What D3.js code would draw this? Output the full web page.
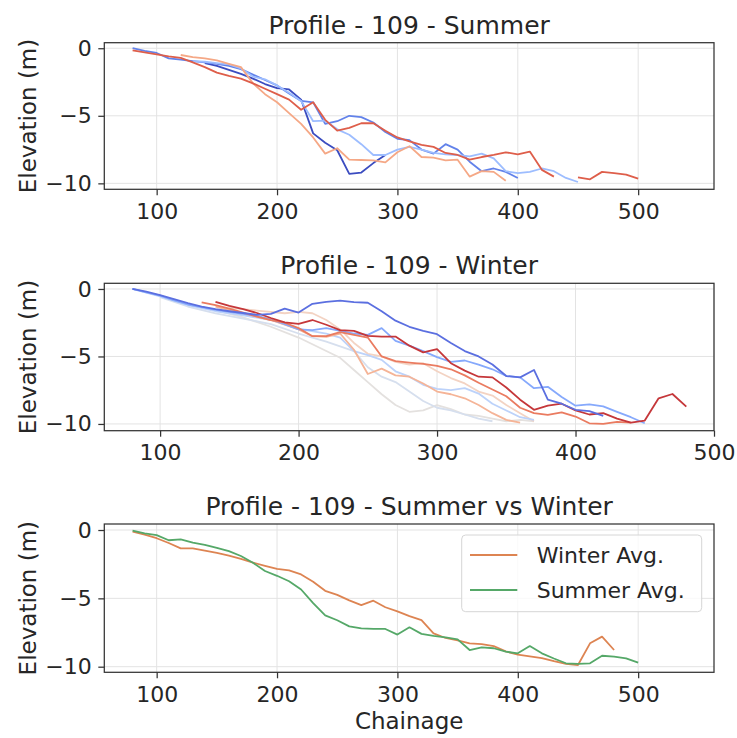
<!DOCTYPE html>
<html>
<head>
<meta charset="utf-8">
<script src="https://cdn.jsdelivr.net/npm/d3@7"></script>
<style>
  body { margin: 0; background: #fff; }
  svg text { font-family: "DejaVu Sans", sans-serif; fill: #262626; }
</style>
</head>
<body>
<svg id="chart" width="737" height="738"></svg>
<script>
// ---- data (chainage, elevation) ----
// Summer surveys
const summerA = [[140,-1.1],[150,-1.3],[160,-1.6],[170,-1.9],[180,-2.25],[190,-2.65],[200,-2.95],[210,-3.05],[220,-3.8],[230,-6.3],[240,-7.0],[250,-7.55],[260,-9.3],[270,-9.2],[280,-8.5],[290,-7.9]];
const summerB = [[80,0],[90,-0.2],[100,-0.35],[110,-0.75],[120,-0.85],[130,-0.95],[140,-1.05],[150,-1.15],[160,-1.3],[170,-1.55],[180,-1.95],[190,-2.35],[200,-2.75],[210,-3.35],[220,-3.9],[230,-4.0],[240,-5.6],[250,-5.4],[260,-5.0],[270,-5.1],[280,-5.5],[290,-6.2],[300,-6.7],[310,-6.8],[320,-7.5],[330,-7.8],[340,-7.1],[350,-7.5],[360,-8.4],[370,-9.1],[380,-8.9],[390,-9.15],[400,-9.6]];
const summerC = [[130,-0.95],[140,-1.0],[150,-1.1],[160,-1.2],[170,-1.5],[180,-2.1],[190,-2.3],[200,-2.75],[210,-3.3],[220,-3.9],[230,-5.4],[240,-5.35],[250,-6.0],[260,-6.4],[270,-7.1],[280,-7.9],[290,-7.9],[300,-7.5],[310,-7.3],[320,-7.5],[330,-7.75],[340,-7.85],[350,-7.9],[360,-8.0],[370,-7.8],[380,-8.15],[390,-9.1],[400,-9.25],[410,-9.15],[420,-8.9],[430,-9.1],[440,-9.6],[450,-9.9]];
const summerD = [[120,-0.5],[130,-0.65],[140,-0.75],[150,-0.9],[160,-1.15],[170,-1.4],[180,-2.6],[190,-3.4],[200,-4.0],[210,-4.8],[220,-5.6],[230,-6.6],[240,-7.8],[250,-7.4],[260,-8.25],[270,-8.27],[280,-8.3],[290,-8.45],[300,-7.7],[310,-7.25],[320,-8.05],[330,-8.1],[340,-8.3],[350,-8.25],[360,-9.5],[370,-9.1],[380,-9.15],[390,-9.8]];
const summerE = [[80,-0.15],[90,-0.3],[100,-0.45],[110,-0.6],[120,-0.72],[130,-1.05],[140,-1.4],[150,-1.8],[160,-2.05],[170,-2.25],[180,-2.6],[190,-3.0],[200,-3.4],[210,-3.8],[220,-4.55],[230,-4.0],[240,-5.3],[250,-6.1],[260,-5.9],[270,-5.55],[280,-5.55],[290,-6.1],[300,-6.6],[310,-6.9],[320,-7.15],[330,-7.3],[340,-7.75],[350,-7.9],[360,-8.25],[370,-8.05],[380,-7.9],[390,-7.7],[400,-7.85],[410,-7.65],[420,-9.0],[430,-9.5],[440,null],[450,-9.55],[460,-9.7],[470,-9.15],[480,-9.25],[490,-9.35],[500,-9.65]];
const summerColors = ["#3b4cc0", "#6282ea", "#9dbdff", "#f5a886", "#de5e4a"];

// Winter surveys
const winterA = [[80,0],[90,-0.2],[100,-0.45],[110,-0.75],[120,-1.05],[130,-1.3],[140,-1.5],[150,-1.65],[160,-1.78],[170,-1.92],[180,-1.85],[190,-1.45],[200,-1.75],[210,-1.1],[220,-0.95],[230,-0.87],[240,-0.98],[250,-1.02],[260,-1.65],[270,-2.35],[280,-2.8],[290,-3.1],[300,-3.35],[310,-4.0],[320,-4.6],[330,-5.0],[340,-5.6],[350,-6.45],[360,-6.55],[370,-6.0],[380,-8.2],[390,-8.5],[400,-8.95],[410,-9.05],[420,-9.4]];
const winterB = [[80,0],[90,-0.25],[100,-0.5],[110,-0.85],[120,-1.15],[130,-1.35],[140,-1.55],[150,-1.7],[160,-1.85],[170,-2.0],[180,-2.25],[190,-2.6],[200,-3.0],[210,-3.05],[220,-2.9],[230,-3.1],[240,-3.3],[250,-3.4],[260,-2.9],[270,-3.85],[280,-4.2],[290,-4.6],[300,-5.05],[310,-5.4],[320,-5.3],[330,-5.6],[340,-5.95],[350,-6.45],[360,-6.55],[370,-7.35],[380,-7.25],[390,-8.0],[400,-8.65],[410,-8.55],[420,-8.7],[430,-9.1],[440,-9.5],[450,-9.95]];
const winterC = [[80,0],[100,-0.55],[120,-1.2],[140,-1.65],[160,-1.95],[180,-2.3],[200,-2.95],[220,-3.3],[230,-3.6],[240,-4.6],[250,-4.9],[260,-5.25],[270,-6.1],[280,-6.5],[290,-7.1],[300,-7.4],[310,-7.5],[320,-7.35],[330,-7.75],[340,-8.5],[350,-9.0],[360,-9.5],[370,-9.7]];
const winterD = [[100,-0.6],[120,-1.3],[140,-1.8],[160,-2.2],[180,-2.6],[200,-3.3],[220,-3.9],[240,-4.6],[250,-5.8],[260,-6.5],[270,-6.9],[280,-7.6],[290,-8.3],[300,-8.8],[310,-9.0],[320,-9.3],[330,-9.6],[340,-9.8]];
const winterE = [[130,-1.3],[160,-2.1],[180,-2.8],[200,-3.6],[210,-4.1],[220,-4.6],[230,-5.1],[240,-6.0],[250,-6.9],[260,-7.8],[270,-8.6],[280,-9.1],[290,-9.0],[300,-8.6],[310,-8.9],[320,-9.3],[330,-9.4],[340,-9.6],[350,-9.8],[360,-9.7],[370,-9.8]];
const winterF = [[150,-1.4],[170,-1.6],[190,-1.8],[200,-1.7],[210,-1.8],[220,-2.3],[230,-3.0],[240,-4.0],[250,-4.8],[260,-5.0],[270,-5.4],[280,-5.6],[290,-5.5],[300,-6.1],[310,-6.6],[320,-7.0],[330,-7.6],[340,-7.9],[350,-8.6],[360,-9.2],[370,-9.8]];
const winterG = [[140,-1.3],[160,-1.8],[180,-2.3],[200,-3.0],[210,-3.5],[220,-3.55],[230,-3.3],[240,-4.5],[250,-6.3],[260,-5.9],[270,-6.4],[280,-6.5],[290,-7.0],[300,-7.6],[310,-7.8],[320,-8.1],[330,-8.6],[340,-9.2],[350,-9.7],[360,-9.9]];
const winterH = [[130,-1.0],[140,-1.2],[150,-1.45],[160,-1.75],[170,-2.05],[180,-2.3],[190,-2.5],[200,-2.9],[210,-3.5],[220,-3.5],[230,-3.2],[240,-3.4],[250,-3.6],[260,-5.0],[270,-5.35],[280,-5.45],[290,-5.55],[300,-5.7],[310,-5.95],[320,-6.4],[330,-6.95],[340,-7.45],[350,-7.95],[360,-8.8],[370,-9.2],[380,-9.33],[390,-9.15],[400,-9.45],[410,-9.95],[420,-10.0],[430,-9.85],[440,-9.9]];
const winterI = [[140,-0.95],[150,-1.25],[160,-1.5],[170,-1.78],[180,-2.15],[190,-2.48],[200,-2.58],[210,-2.3],[220,-2.65],[230,-3.05],[240,-3.1],[250,-3.48],[260,-3.53],[270,-3.53],[280,-4.2],[290,-4.7],[300,-4.45],[310,-5.5],[320,-6.05],[330,-6.5],[340,-6.55],[350,-7.3],[360,-8.2],[370,-8.95],[380,-8.65],[390,-8.5],[400,-9.0],[410,-9.3],[420,-9.2],[430,-9.6],[440,-9.9],[450,-9.75],[460,-8.1],[470,-7.78],[480,-8.72]];
const winterColors = ["#5b6fe0", "#86a9fc", "#bcd2fa", "#d6dfee", "#e4e1df", "#f3d3c3", "#f5b497", "#ea7b60", "#c5373a"];

// Seasonal averages
const winterAvg = [[80,-0.12],[90,-0.33],[100,-0.6],[110,-0.95],[120,-1.34],[130,-1.34],[140,-1.5],[150,-1.68],[160,-1.88],[170,-2.12],[180,-2.38],[190,-2.62],[200,-2.85],[210,-2.95],[220,-3.25],[230,-3.78],[240,-4.45],[250,-4.75],[260,-5.15],[270,-5.5],[280,-5.17],[290,-5.65],[300,-5.95],[310,-6.3],[320,-6.6],[330,-7.56],[340,-7.9],[350,-8.08],[360,-8.29],[370,-8.35],[380,-8.5],[390,-8.88],[400,-9.12],[410,-9.25],[420,-9.37],[430,-9.6],[440,-9.8],[450,-9.88],[460,-8.29],[470,-7.8],[480,-8.78]];
const summerAvg = [[80,-0.05],[90,-0.25],[100,-0.37],[110,-0.75],[120,-0.68],[130,-0.92],[140,-1.08],[150,-1.3],[160,-1.55],[170,-1.9],[180,-2.4],[190,-3.0],[200,-3.35],[210,-3.75],[220,-4.35],[230,-5.35],[240,-6.25],[250,-6.6],[260,-7.05],[270,-7.2],[280,-7.24],[290,-7.24],[300,-7.65],[310,-7.12],[320,-7.6],[330,-7.75],[340,-7.85],[350,-8.0],[360,-8.78],[370,-8.58],[380,-8.65],[390,-8.9],[400,-9.02],[410,-8.49],[420,-9.02],[430,-9.4],[440,-9.75],[450,-9.8],[460,-9.75],[470,-9.2],[480,-9.27],[490,-9.39],[500,-9.7]];
const avgNames = ["Winter Avg.", "Summer Avg."];
const avgColors = ["#dd8452", "#55a868"];

const xTicks = [100, 200, 300, 400, 500];
const yTicks = [0, -5, -10];

// ---- layout ----
const svg = d3.select("#chart");
const left = 104.3, right = 714;

const panels = [
  { title: "Profile - 109 - Summer", top: 42.7, bottom: 189.3, xDomain: [56.5, 563], yDomain: [-10.44, 0.41],
    series: [summerA, summerB, summerC, summerD, summerE], colors: summerColors },
  { title: "Profile - 109 - Winter", top: 283.3, bottom: 430.7, xDomain: [59.7, 500], yDomain: [-10.5, 0.42],
    series: [winterE, winterD, winterF, winterC, winterG, winterB, winterH, winterI, winterA],
    colors: [winterColors[4], winterColors[3], winterColors[5], winterColors[2], winterColors[6], winterColors[1], winterColors[7], winterColors[8], winterColors[0]] },
  { title: "Profile - 109 - Summer vs Winter", top: 524, bottom: 672.3, xDomain: [56.5, 563], yDomain: [-10.41, 0.44],
    series: [winterAvg, summerAvg], colors: avgColors, legend: true }
];

panels.forEach(function(p, i) {
  const x = d3.scaleLinear().domain(p.xDomain).range([left, right]);
  const y = d3.scaleLinear().domain(p.yDomain).range([p.bottom, p.top]);
  const g = svg.append("g");

  // grid
  g.selectAll(".gx").data(xTicks).enter().append("line")
    .attr("x1", d => x(d)).attr("x2", d => x(d))
    .attr("y1", p.top).attr("y2", p.bottom)
    .attr("stroke", "#e3e3e3").attr("stroke-width", 1);
  g.selectAll(".gy").data(yTicks).enter().append("line")
    .attr("x1", left).attr("x2", right)
    .attr("y1", d => y(d)).attr("y2", d => y(d))
    .attr("stroke", "#e3e3e3").attr("stroke-width", 1);

  // lines
  const line = d3.line()
    .defined(d => d[1] !== null)
    .x(d => x(d[0]))
    .y(d => y(d[1]));
  p.series.forEach(function(s, j) {
    g.append("path")
      .datum(s)
      .attr("fill", "none")
      .attr("stroke", p.colors[j])
      .attr("stroke-width", 1.8)
      .attr("stroke-linejoin", "round")
      .attr("d", line);
  });

  // spines
  g.append("rect")
    .attr("x", left).attr("y", p.top)
    .attr("width", right - left).attr("height", p.bottom - p.top)
    .attr("fill", "none").attr("stroke", "#333").attr("stroke-width", 1.25);

  // axes
  const xAxis = g.append("g")
    .attr("transform", `translate(0,${p.bottom})`)
    .call(d3.axisBottom(x).tickValues(xTicks).tickSize(6).tickPadding(8).tickSizeOuter(0));
  const yAxis = g.append("g")
    .attr("transform", `translate(${left},0)`)
    .call(d3.axisLeft(y).tickValues(yTicks).tickSize(6).tickPadding(6.5).tickSizeOuter(0));
  [xAxis, yAxis].forEach(function(a) {
    a.select(".domain").remove();
    a.selectAll(".tick line").attr("stroke", "#333").attr("stroke-width", 1.25);
    a.selectAll(".tick text").attr("font-size", 22).attr("fill", "#262626")
      .style("font-family", "'DejaVu Sans', sans-serif");
  });

  // title
  g.append("text")
    .attr("x", (left + right) / 2).attr("y", p.top - 9)
    .attr("text-anchor", "middle").attr("font-size", 25)
    .text(p.title);

  // y label
  g.append("text")
    .attr("transform", `translate(28,${(p.top + p.bottom) / 2}) rotate(-90)`)
    .attr("text-anchor", "middle").attr("dy", "0.35em").attr("font-size", 23)
    .text("Elevation (m)");

  if (p.legend) {
    const lg = g.append("g").attr("transform", "translate(461.7,535)");
    lg.append("rect")
      .attr("width", 240).attr("height", 76.7).attr("rx", 4)
      .attr("fill", "#fff").attr("fill-opacity", 0.8)
      .attr("stroke", "#d6d6d6").attr("stroke-width", 1);
    avgNames.forEach(function(name, k) {
      const yy = 20 + k * 35;
      lg.append("line")
        .attr("x1", 8.3).attr("x2", 55.6).attr("y1", yy).attr("y2", yy)
        .attr("stroke", avgColors[k]).attr("stroke-width", 1.8);
      lg.append("text")
        .attr("x", 75).attr("y", yy).attr("dy", "0.35em")
        .attr("font-size", 22).text(name);
    });
  }
});

// x label
svg.append("text")
  .attr("x", (left + right) / 2).attr("y", 729)
  .attr("text-anchor", "middle").attr("font-size", 23)
  .text("Chainage");
</script>
</body>
</html>
